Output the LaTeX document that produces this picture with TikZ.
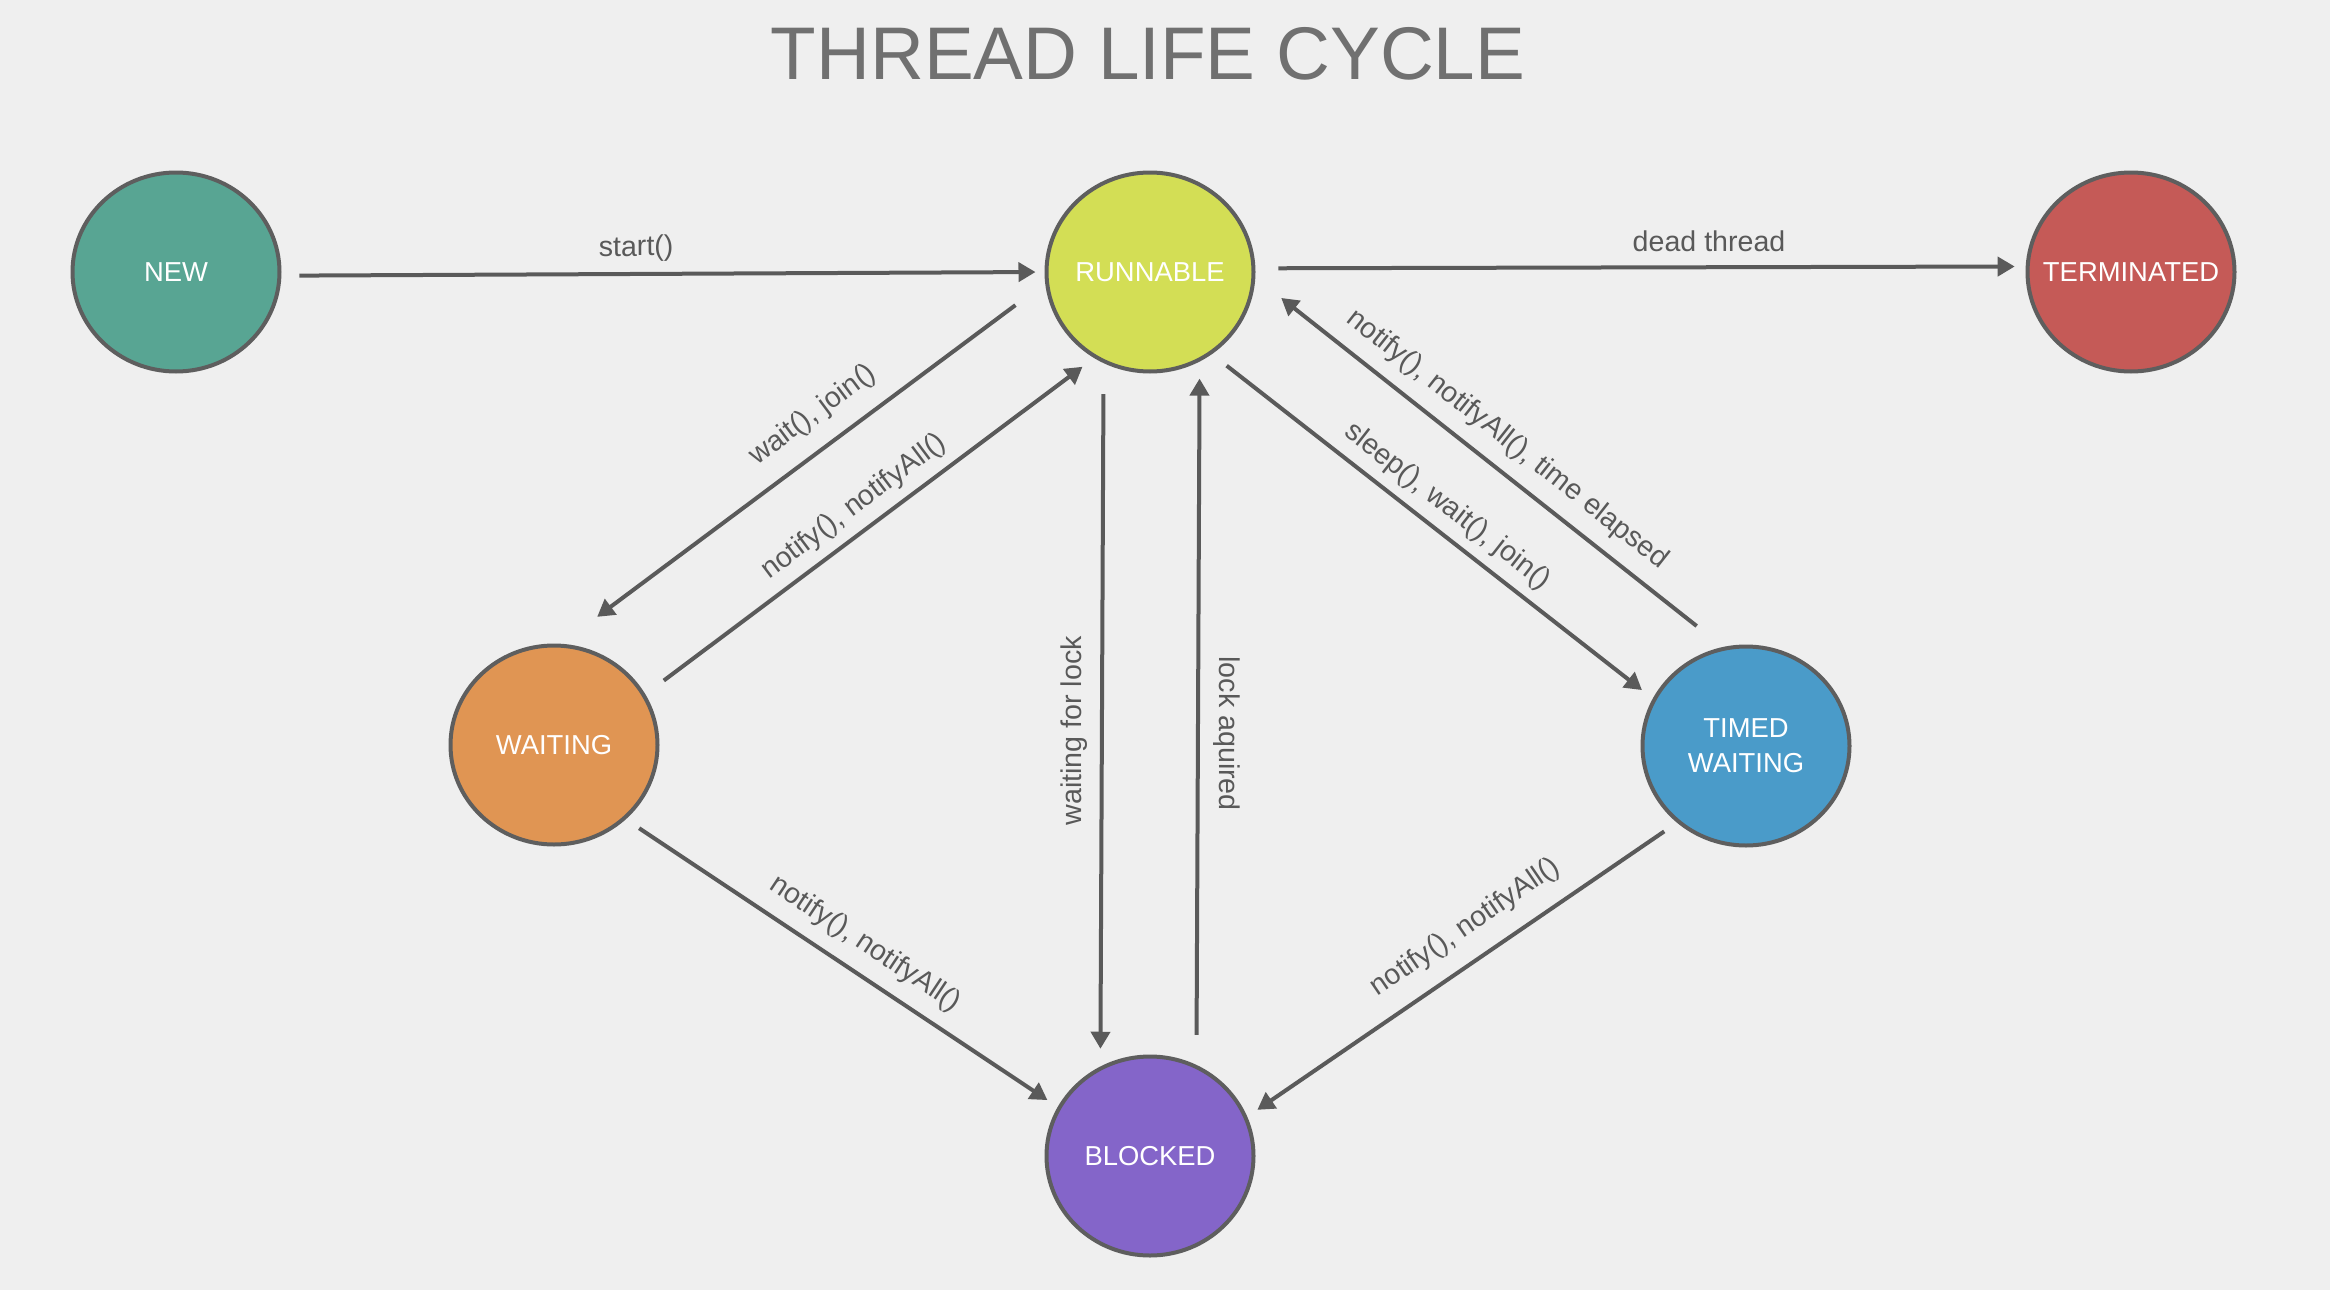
\documentclass[tikz,border=0pt]{standalone}
\usepackage{fontspec}
\setmainfont{Liberation Sans}
\usepackage{xcolor}
\usetikzlibrary{arrows.meta,shapes.geometric}
\definecolor{tlpaper}{HTML}{EFEFEF}
\definecolor{tlrim}{HTML}{5E5E5E}
\definecolor{tlwire}{HTML}{5A5A5A}
\definecolor{tlink}{HTML}{595959}
\definecolor{tlhead}{HTML}{707070}
\definecolor{tlnew}{HTML}{58A593}
\definecolor{tlrun}{HTML}{D3DE55}
\definecolor{tlterm}{HTML}{C55A57}
\definecolor{tlwait}{HTML}{E09553}
\definecolor{tltimed}{HTML}{4A9BC9}
\definecolor{tlblock}{HTML}{8465C9}
\tikzset{
  head/.tip={Triangle[length=8.5pt,width=9.5pt]},
  state/.style={ellipse,draw=tlrim,line width=2pt,minimum width=103.5pt,
    minimum height=99.5pt,inner sep=-10pt,text=white,align=center,
    font=\fontsize{13.7}{17.5}\selectfont},
  flow/.style={draw=tlwire,line width=2pt},
  lbl/.style={text=tlink,font=\fontsize{14.3}{17}\selectfont,inner sep=0pt,
    text height=0.75em,text depth=0.2em,sloped},
  title/.style={text=tlhead,anchor=base,inner sep=0pt,
    font=\fontsize{37.3}{40}\selectfont}
}
\begin{document}
\begin{tikzpicture}[x=0.5pt,y=-0.5pt]
\useasboundingbox[fill=tlpaper] (0,0) rectangle (2330,1290);
\node[title] (ttl) at (1148,79) {THREAD LIFE CYCLE};
% states
\node[state,fill=tlnew] (new) at (176,272) {NEW};
\node[state,fill=tlrun] (run) at (1150,272) {RUNNABLE};
\node[state,fill=tlterm] (term) at (2131,272) {TERMINATED};
\node[state,fill=tlwait] (wait) at (554,745) {WAITING};
\node[state,fill=tltimed] (timed) at (1746,746) {TIMED\\WAITING};
\node[state,fill=tlblock] (block) at (1150,1156) {BLOCKED};
% transitions
\draw[flow,-head,shorten <=9pt,shorten >=4.5pt] (new.-2) -- (run.180)
  node[lbl,pos=.465,above=6pt] {start()};
\draw[flow,-head,shorten <=11.5pt,shorten >=5.5pt] (run.2) -- (term.177)
  node[lbl,pos=.589,above=5pt] {dead thread};
\draw[flow,-head,shorten <=18.5pt,shorten >=22.5pt] (run.186) -- (wait.86)
  node[lbl,pos=.439,above=9.7pt] {wait(), join()};
\draw[flow,-head,shorten <=11.5pt,shorten >=7.25pt] (wait.29) -- (run.237)
  node[lbl,pos=.498,above=5.7pt] {notify(), notifyAll()};
\draw[flow,-head,shorten <=15.5pt,shorten >=8.85pt] (run.243) -- (block.119)
  node[lbl,pos=.523,above=7.2pt] {waiting for lock};
\draw[flow,head-,shorten <=8.5pt,shorten >=15pt] (run.-61) -- (block.63)
  node[lbl,pos=.529,allow upside down,above=7.7pt] {lock aquired};
\draw[flow,-head,shorten <=9.35pt,shorten >=6.85pt] (run.-53) -- (timed.153)
  node[lbl,pos=.499,above=5.7pt] {sleep(), wait(), join()};
\draw[flow,-head,shorten <=16.85pt,shorten >=16.5pt] (timed.103) -- (run.-3)
  node[lbl,pos=.5,above=7.7pt] {notify(), notifyAll(), time elapsed};
\draw[flow,-head,shorten <=8pt,shorten >=6.15pt] (wait.-46) -- (block.152)
  node[lbl,pos=.517,above=7.7pt] {notify(), notifyAll()};
\draw[flow,-head,shorten <=7.7pt,shorten >=6.1pt] (timed.228) -- (block.22)
  node[lbl,pos=.449,above=9.7pt] {notify(), notifyAll()};
\end{tikzpicture}
\end{document}
